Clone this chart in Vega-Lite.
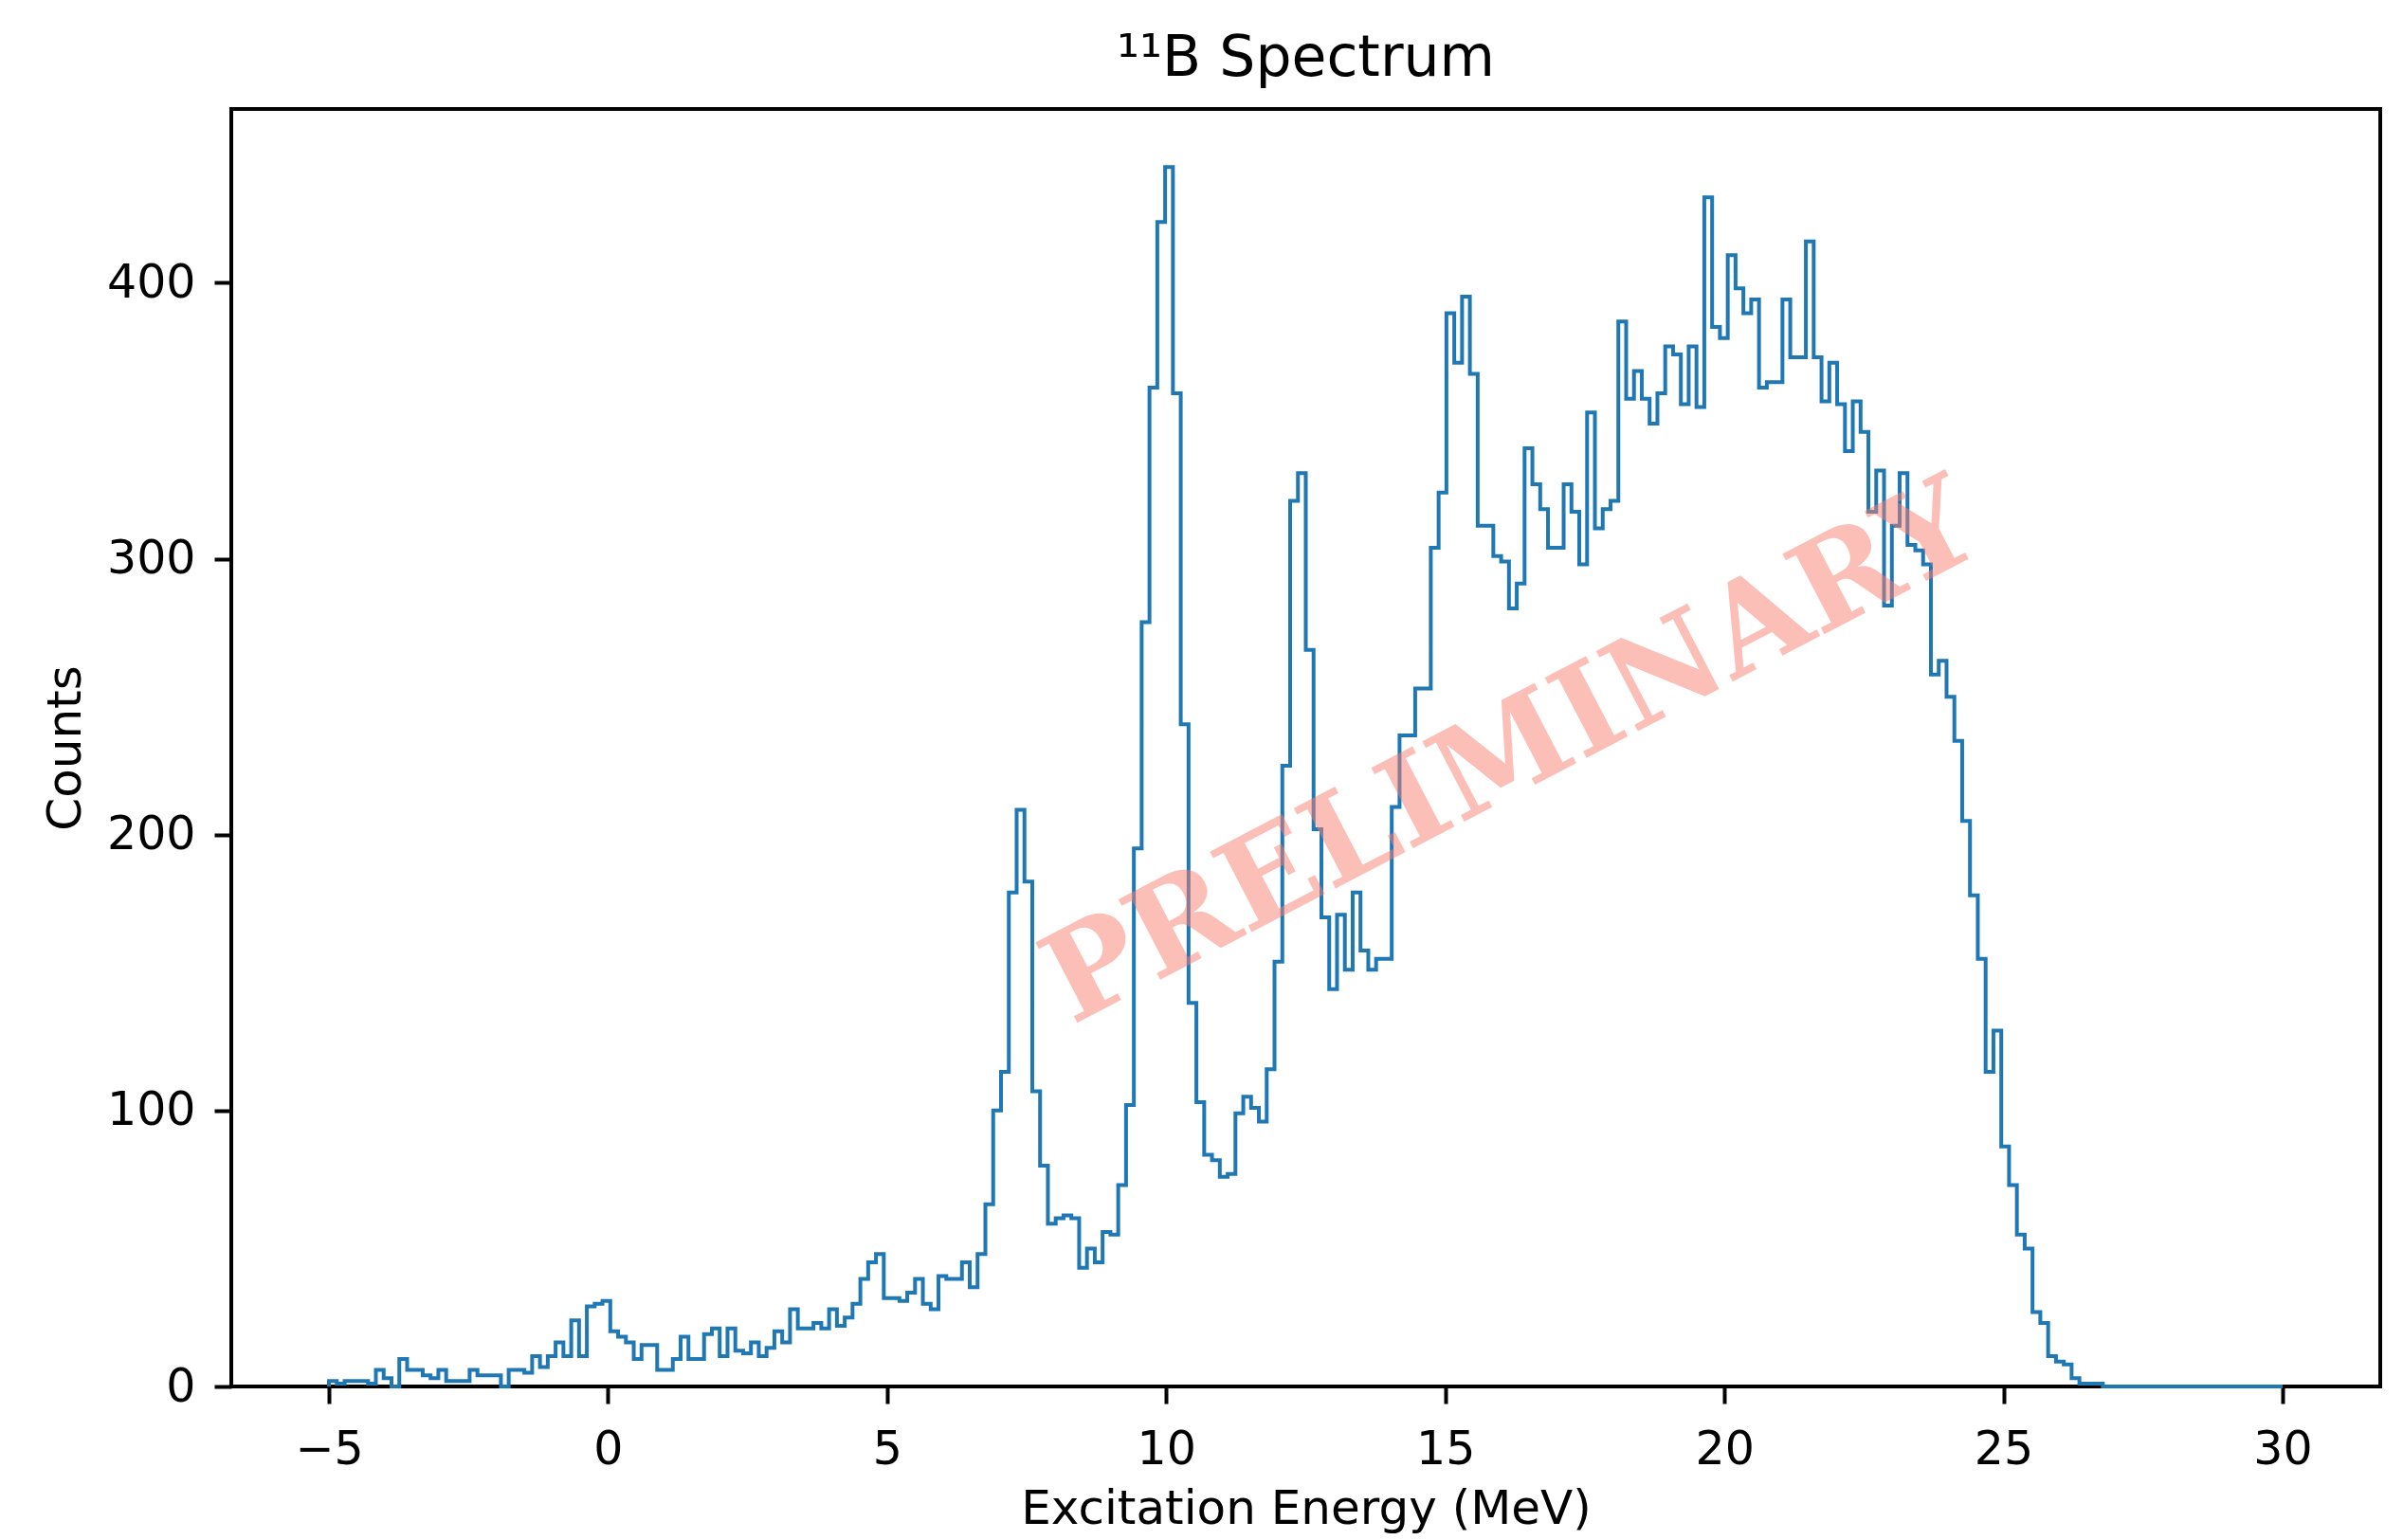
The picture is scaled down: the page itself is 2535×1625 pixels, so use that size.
{
  "$schema": "https://vega.github.io/schema/vega-lite/v6.json",
  "width": 2267,
  "height": 1348,
  "autosize": {"type": "none"},
  "padding": {"left": 244, "top": 115, "right": 24, "bottom": 162},
  "background": "white",
  "config": {
    "view": {"stroke": "black", "strokeWidth": 4},
    "axis": {
      "domain": false,
      "grid": false,
      "tickColor": "black",
      "tickWidth": 4,
      "tickSize": 18,
      "labelFont": "DejaVu Sans",
      "labelFontSize": 49,
      "labelColor": "black",
      "titleFont": "DejaVu Sans",
      "titleFontSize": 50,
      "titleFontWeight": "normal",
      "titleColor": "black",
      "labelFlush": false,
      "labelOverlap": false
    }
  },
  "title": {
    "text": "¹¹B Spectrum",
    "font": "DejaVu Sans",
    "fontSize": 60,
    "fontWeight": "normal",
    "color": "black",
    "anchor": "middle",
    "baseline": "alphabetic",
    "offset": 37,
    "dy": 62
  },
  "layer": [
    {
      "data": {"values": [
        {"k":0,"e":-5,"n":0},
        {"k":1,"e":-5,"n":2},{"k":2,"e":-4.86,"n":1},{"k":3,"e":-4.72,"n":2},{"k":4,"e":-4.58,"n":2},{"k":5,"e":-4.44,"n":2},
        {"k":6,"e":-4.3,"n":1},{"k":7,"e":-4.16,"n":6},{"k":8,"e":-4.02,"n":3},{"k":9,"e":-3.88,"n":0},{"k":10,"e":-3.74,"n":10},
        {"k":11,"e":-3.6,"n":6},{"k":12,"e":-3.46,"n":6},{"k":13,"e":-3.32,"n":4},{"k":14,"e":-3.18,"n":3},{"k":15,"e":-3.04,"n":6},
        {"k":16,"e":-2.9,"n":2},{"k":17,"e":-2.76,"n":2},{"k":18,"e":-2.62,"n":2},{"k":19,"e":-2.48,"n":6},{"k":20,"e":-2.34,"n":4},
        {"k":21,"e":-2.2,"n":4},{"k":22,"e":-2.06,"n":4},{"k":23,"e":-1.92,"n":0},{"k":24,"e":-1.78,"n":6},{"k":25,"e":-1.64,"n":6},
        {"k":26,"e":-1.5,"n":5},{"k":27,"e":-1.36,"n":11},{"k":28,"e":-1.22,"n":7},{"k":29,"e":-1.08,"n":11},{"k":30,"e":-0.94,"n":16},
        {"k":31,"e":-0.8,"n":11},{"k":32,"e":-0.66,"n":24},{"k":33,"e":-0.52,"n":11},{"k":34,"e":-0.38,"n":29},{"k":35,"e":-0.24,"n":30},
        {"k":36,"e":-0.1,"n":31},{"k":37,"e":0.04,"n":20},{"k":38,"e":0.18,"n":18},{"k":39,"e":0.32,"n":16},{"k":40,"e":0.46,"n":10},
        {"k":41,"e":0.6,"n":15},{"k":42,"e":0.74,"n":15},{"k":43,"e":0.88,"n":6},{"k":44,"e":1.02,"n":6},{"k":45,"e":1.16,"n":10},
        {"k":46,"e":1.3,"n":18},{"k":47,"e":1.44,"n":10},{"k":48,"e":1.58,"n":10},{"k":49,"e":1.72,"n":19},{"k":50,"e":1.86,"n":21},
        {"k":51,"e":2,"n":11},{"k":52,"e":2.14,"n":21},{"k":53,"e":2.28,"n":13},{"k":54,"e":2.42,"n":12},{"k":55,"e":2.56,"n":16},
        {"k":56,"e":2.7,"n":11},{"k":57,"e":2.84,"n":14},{"k":58,"e":2.98,"n":20},{"k":59,"e":3.12,"n":16},{"k":60,"e":3.26,"n":28},
        {"k":61,"e":3.4,"n":21},{"k":62,"e":3.54,"n":21},{"k":63,"e":3.68,"n":23},{"k":64,"e":3.82,"n":21},{"k":65,"e":3.96,"n":28},
        {"k":66,"e":4.1,"n":22},{"k":67,"e":4.24,"n":25},{"k":68,"e":4.38,"n":30},{"k":69,"e":4.52,"n":39},{"k":70,"e":4.66,"n":45},
        {"k":71,"e":4.8,"n":48},{"k":72,"e":4.94,"n":32},{"k":73,"e":5.08,"n":32},{"k":74,"e":5.22,"n":31},{"k":75,"e":5.36,"n":34},
        {"k":76,"e":5.5,"n":39},{"k":77,"e":5.64,"n":30},{"k":78,"e":5.78,"n":28},{"k":79,"e":5.92,"n":40},{"k":80,"e":6.06,"n":39},
        {"k":81,"e":6.2,"n":39},{"k":82,"e":6.34,"n":45},{"k":83,"e":6.48,"n":36},{"k":84,"e":6.62,"n":48},{"k":85,"e":6.76,"n":66},
        {"k":86,"e":6.9,"n":100},{"k":87,"e":7.04,"n":114},{"k":88,"e":7.18,"n":179},{"k":89,"e":7.32,"n":209},{"k":90,"e":7.46,"n":183},
        {"k":91,"e":7.6,"n":107},{"k":92,"e":7.74,"n":80},{"k":93,"e":7.88,"n":59},{"k":94,"e":8.02,"n":61},{"k":95,"e":8.16,"n":62},
        {"k":96,"e":8.3,"n":61},{"k":97,"e":8.44,"n":43},{"k":98,"e":8.58,"n":50},{"k":99,"e":8.72,"n":45},{"k":100,"e":8.86,"n":56},
        {"k":101,"e":9,"n":55},{"k":102,"e":9.14,"n":73},{"k":103,"e":9.28,"n":102},{"k":104,"e":9.42,"n":195},{"k":105,"e":9.56,"n":277},
        {"k":106,"e":9.7,"n":362},{"k":107,"e":9.84,"n":422},{"k":108,"e":9.98,"n":442},{"k":109,"e":10.12,"n":360},{"k":110,"e":10.26,"n":240},
        {"k":111,"e":10.4,"n":139},{"k":112,"e":10.54,"n":103},{"k":113,"e":10.68,"n":84},{"k":114,"e":10.82,"n":82},{"k":115,"e":10.96,"n":76},
        {"k":116,"e":11.1,"n":77},{"k":117,"e":11.24,"n":99},{"k":118,"e":11.38,"n":105},{"k":119,"e":11.52,"n":101},{"k":120,"e":11.66,"n":96},
        {"k":121,"e":11.8,"n":115},{"k":122,"e":11.94,"n":154},{"k":123,"e":12.08,"n":225},{"k":124,"e":12.22,"n":321},{"k":125,"e":12.36,"n":331},
        {"k":126,"e":12.5,"n":267},{"k":127,"e":12.64,"n":202},{"k":128,"e":12.78,"n":170},{"k":129,"e":12.92,"n":144},{"k":130,"e":13.06,"n":171},
        {"k":131,"e":13.2,"n":151},{"k":132,"e":13.34,"n":179},{"k":133,"e":13.48,"n":158},{"k":134,"e":13.62,"n":151},{"k":135,"e":13.76,"n":155},
        {"k":136,"e":13.9,"n":155},{"k":137,"e":14.04,"n":210},{"k":138,"e":14.18,"n":236},{"k":139,"e":14.32,"n":236},{"k":140,"e":14.46,"n":253},
        {"k":141,"e":14.6,"n":253},{"k":142,"e":14.74,"n":304},{"k":143,"e":14.88,"n":324},{"k":144,"e":15.02,"n":389},{"k":145,"e":15.16,"n":371},
        {"k":146,"e":15.3,"n":395},{"k":147,"e":15.44,"n":367},{"k":148,"e":15.58,"n":312},{"k":149,"e":15.72,"n":312},{"k":150,"e":15.86,"n":301},
        {"k":151,"e":16,"n":299},{"k":152,"e":16.14,"n":282},{"k":153,"e":16.28,"n":291},{"k":154,"e":16.42,"n":340},{"k":155,"e":16.56,"n":327},
        {"k":156,"e":16.7,"n":318},{"k":157,"e":16.84,"n":304},{"k":158,"e":16.98,"n":304},{"k":159,"e":17.12,"n":327},{"k":160,"e":17.26,"n":317},
        {"k":161,"e":17.4,"n":298},{"k":162,"e":17.54,"n":353},{"k":163,"e":17.68,"n":311},{"k":164,"e":17.82,"n":318},{"k":165,"e":17.96,"n":321},
        {"k":166,"e":18.1,"n":386},{"k":167,"e":18.24,"n":358},{"k":168,"e":18.38,"n":368},{"k":169,"e":18.52,"n":358},{"k":170,"e":18.66,"n":349},
        {"k":171,"e":18.8,"n":360},{"k":172,"e":18.94,"n":377},{"k":173,"e":19.08,"n":374},{"k":174,"e":19.22,"n":356},{"k":175,"e":19.36,"n":377},
        {"k":176,"e":19.5,"n":355},{"k":177,"e":19.64,"n":431},{"k":178,"e":19.78,"n":384},{"k":179,"e":19.92,"n":380},{"k":180,"e":20.06,"n":410},
        {"k":181,"e":20.2,"n":398},{"k":182,"e":20.34,"n":389},{"k":183,"e":20.48,"n":394},{"k":184,"e":20.62,"n":362},{"k":185,"e":20.76,"n":364},
        {"k":186,"e":20.9,"n":364},{"k":187,"e":21.04,"n":394},{"k":188,"e":21.18,"n":373},{"k":189,"e":21.32,"n":373},{"k":190,"e":21.46,"n":415},
        {"k":191,"e":21.6,"n":373},{"k":192,"e":21.74,"n":357},{"k":193,"e":21.88,"n":371},{"k":194,"e":22.02,"n":356},{"k":195,"e":22.16,"n":339},
        {"k":196,"e":22.3,"n":357},{"k":197,"e":22.44,"n":346},{"k":198,"e":22.58,"n":317},{"k":199,"e":22.72,"n":332},{"k":200,"e":22.86,"n":283},
        {"k":201,"e":23,"n":312},{"k":202,"e":23.14,"n":331},{"k":203,"e":23.28,"n":305},{"k":204,"e":23.42,"n":303},{"k":205,"e":23.56,"n":298},
        {"k":206,"e":23.7,"n":258},{"k":207,"e":23.84,"n":263},{"k":208,"e":23.98,"n":250},{"k":209,"e":24.12,"n":234},{"k":210,"e":24.26,"n":205},
        {"k":211,"e":24.4,"n":178},{"k":212,"e":24.54,"n":155},{"k":213,"e":24.68,"n":114},{"k":214,"e":24.82,"n":129},{"k":215,"e":24.96,"n":87},
        {"k":216,"e":25.1,"n":73},{"k":217,"e":25.24,"n":55},{"k":218,"e":25.38,"n":50},{"k":219,"e":25.52,"n":27},{"k":220,"e":25.66,"n":23},
        {"k":221,"e":25.8,"n":11},{"k":222,"e":25.94,"n":9},{"k":223,"e":26.08,"n":8},{"k":224,"e":26.22,"n":3},{"k":225,"e":26.36,"n":1},
        {"k":226,"e":26.5,"n":1},{"k":227,"e":26.64,"n":1},{"k":228,"e":26.78,"n":0},{"k":229,"e":26.92,"n":0},{"k":230,"e":27.06,"n":0},
        {"k":231,"e":27.2,"n":0},{"k":232,"e":27.34,"n":0},{"k":233,"e":27.48,"n":0},{"k":234,"e":27.62,"n":0},{"k":235,"e":27.76,"n":0},
        {"k":236,"e":27.9,"n":0},{"k":237,"e":28.04,"n":0},{"k":238,"e":28.18,"n":0},{"k":239,"e":28.32,"n":0},{"k":240,"e":28.46,"n":0},
        {"k":241,"e":28.6,"n":0},{"k":242,"e":28.74,"n":0},{"k":243,"e":28.88,"n":0},{"k":244,"e":29.02,"n":0},{"k":245,"e":29.16,"n":0},
        {"k":246,"e":29.3,"n":0},{"k":247,"e":29.44,"n":0},{"k":248,"e":29.58,"n":0},{"k":249,"e":29.72,"n":0},{"k":250,"e":29.86,"n":0},
        {"k":251,"e":30,"n":0}
      ]},
      "mark": {"type": "line", "interpolate": "step-after", "color": "#1f77b4", "strokeWidth": 4},
      "encoding": {
        "x": {
          "field": "e", "type": "quantitative",
          "scale": {"domain": [-6.75, 31.75], "nice": false, "zero": false},
          "axis": {
            "values": [-5, 0, 5, 10, 15, 20, 25, 30],
            "format": "d",
            "title": "Excitation Energy (MeV)",
            "labelPadding": 24,
            "titleBaseline": "alphabetic",
            "titleY": 144
          }
        },
        "y": {
          "field": "n", "type": "quantitative",
          "scale": {"domain": [0, 463], "nice": false},
          "axis": {
            "values": [0, 100, 200, 300, 400],
            "format": "d",
            "title": "Counts",
            "labelPadding": 20,
            "titleBaseline": "alphabetic",
            "titleX": -160
          }
        },
        "order": {"field": "k", "type": "quantitative"}
      }
    },
    {
      "data": {"values": [{"label": "PRELIMINARY"}]},
      "mark": {
        "type": "text",
        "font": "DejaVu Serif",
        "fontWeight": "bold",
        "fontSize": 131,
        "angle": 332.5,
        "color": "salmon",
        "opacity": 0.5,
        "align": "center",
        "baseline": "alphabetic"
      },
      "encoding": {
        "text": {"field": "label"},
        "x": {"datum": 16.5},
        "y": {"datum": 217}
      }
    }
  ]
}
